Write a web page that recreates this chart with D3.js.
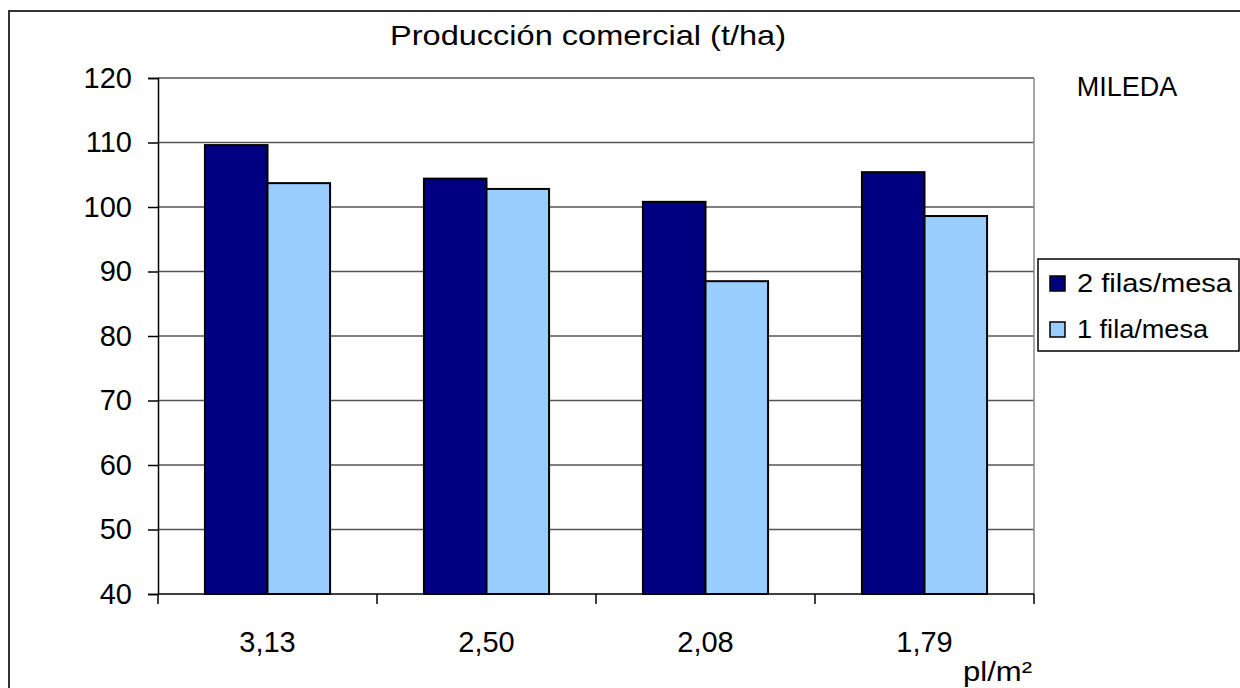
<!DOCTYPE html>
<html>
<head>
<meta charset="utf-8">
<script src="https://cdn.jsdelivr.net/npm/d3@7"></script>
<style>
  body { margin: 0; background: #fff; }
  text { font-family: "Liberation Sans", Arial, sans-serif; fill: #000; }
</style>
</head>
<body>
<div id="chart"></div>
<script>
// data
var categories = ["3,13", "2,50", "2,08", "1,79"];
var seriesNames = ["2 filas/mesa", "1 fila/mesa"];
var dosFilas = [109.6, 104.4, 100.8, 105.4];
var unaFila = [103.7, 102.8, 88.5, 98.6];
var yTicks = [40, 50, 60, 70, 80, 90, 100, 110, 120];
var colors = ["#000080", "#99ccff"];

var width = 1240, height = 688;
var plotLeft = 158, plotTop = 78, plotRight = 1034, plotBottom = 594;

var svg = d3.select("#chart").append("svg")
  .attr("width", width)
  .attr("height", height);

// outer chart border (right/bottom run off the picture)
svg.append("rect")
  .attr("x", 9).attr("y", 11)
  .attr("width", width + 20).attr("height", height + 20)
  .attr("fill", "none").attr("stroke", "#333").attr("stroke-width", 2);

var x = d3.scaleBand().domain(categories).range([plotLeft, plotRight]).padding(0);
var sub = d3.scaleBand().domain([0, 1]).range([0, x.bandwidth()]).paddingInner(0).paddingOuter(0.75);
var y = d3.scaleLinear().domain([40, 120]).range([plotBottom, plotTop]);

// gridlines
svg.append("g").selectAll("line").data(yTicks.slice(1)).enter().append("line")
  .attr("x1", plotLeft).attr("x2", plotRight)
  .attr("y1", function(d) { return y(d); }).attr("y2", function(d) { return y(d); })
  .attr("stroke", "#555").attr("stroke-width", 1.5);

// plot area right edge
svg.append("line")
  .attr("x1", plotRight).attr("x2", plotRight).attr("y1", plotTop).attr("y2", plotBottom)
  .attr("stroke", "#888").attr("stroke-width", 1.5);

// bars
var groups = svg.append("g").selectAll("g").data(categories).enter().append("g")
  .attr("transform", function(d) { return "translate(" + x(d) + ",0)"; });

groups.selectAll("rect").data(function(d, i) { return [dosFilas[i], unaFila[i]]; })
  .enter().append("rect")
  .attr("x", function(d, j) { return sub(j); })
  .attr("width", sub.bandwidth())
  .attr("y", function(d) { return y(d); })
  .attr("height", function(d) { return y(40) - y(d); })
  .attr("fill", function(d, j) { return colors[j]; })
  .attr("stroke", "#000").attr("stroke-width", 2);

// y axis
var yAxis = svg.append("g")
  .attr("transform", "translate(" + plotLeft + ",0)")
  .call(d3.axisLeft(y).tickValues(yTicks).tickSize(10).tickPadding(16));
yAxis.selectAll("text").style("font-size", "29px").style("font-family", "Liberation Sans, Arial, sans-serif");
yAxis.selectAll("line, path").attr("stroke", "#000").attr("stroke-width", 1.5);

// x axis
var xTickScale = d3.scaleLinear().domain([0, categories.length]).range([plotLeft, plotRight]);
var xAxis = svg.append("g")
  .attr("transform", "translate(0," + plotBottom + ")");
xAxis.append("line").attr("x1", plotLeft).attr("x2", plotRight).attr("y1", 0).attr("y2", 0)
  .attr("stroke", "#000").attr("stroke-width", 1.5);
xAxis.selectAll(".tk").data(d3.range(categories.length + 1)).enter().append("line")
  .attr("x1", function(d) { return xTickScale(d); }).attr("x2", function(d) { return xTickScale(d); })
  .attr("y1", 0).attr("y2", 10)
  .attr("stroke", "#000").attr("stroke-width", 1.5);
xAxis.selectAll(".lbl").data(categories).enter().append("text")
  .attr("x", function(d) { return x(d) + x.bandwidth() / 2; })
  .attr("y", 58)
  .attr("text-anchor", "middle")
  .style("font-size", "29px")
  .text(function(d) { return d; });

svg.append("text").attr("x", 963).attr("y", 681)
  .attr("textLength", 69).attr("lengthAdjust", "spacingAndGlyphs")
  .style("font-size", "27px").text("pl/m²");

// title + variety label
svg.append("text").attr("x", 588).attr("y", 45).attr("text-anchor", "middle")
  .attr("textLength", 396).attr("lengthAdjust", "spacingAndGlyphs")
  .style("font-size", "28px").text("Producción comercial (t/ha)");
svg.append("text").attr("x", 1127).attr("y", 96).attr("text-anchor", "middle")
  .style("font-size", "27px").text("MILEDA");

// legend
var legend = svg.append("g").attr("transform", "translate(1038,259)");
legend.append("rect").attr("width", 201).attr("height", 92)
  .attr("fill", "#fff").attr("stroke", "#000").attr("stroke-width", 1.5);
var items = legend.selectAll(".it").data(seriesNames).enter().append("g")
  .attr("transform", function(d, i) { return "translate(12," + (17 + i * 46) + ")"; });
items.append("rect").attr("width", 15).attr("height", 15)
  .attr("fill", function(d, i) { return colors[i]; })
  .attr("stroke", "#000").attr("stroke-width", 1.5);
items.append("text").attr("x", 27).attr("y", 16)
  .attr("textLength", function(d, i) { return i === 0 ? 155 : 131; })
  .attr("lengthAdjust", "spacingAndGlyphs")
  .style("font-size", "26px").text(function(d) { return d; });
</script>
</body>
</html>
